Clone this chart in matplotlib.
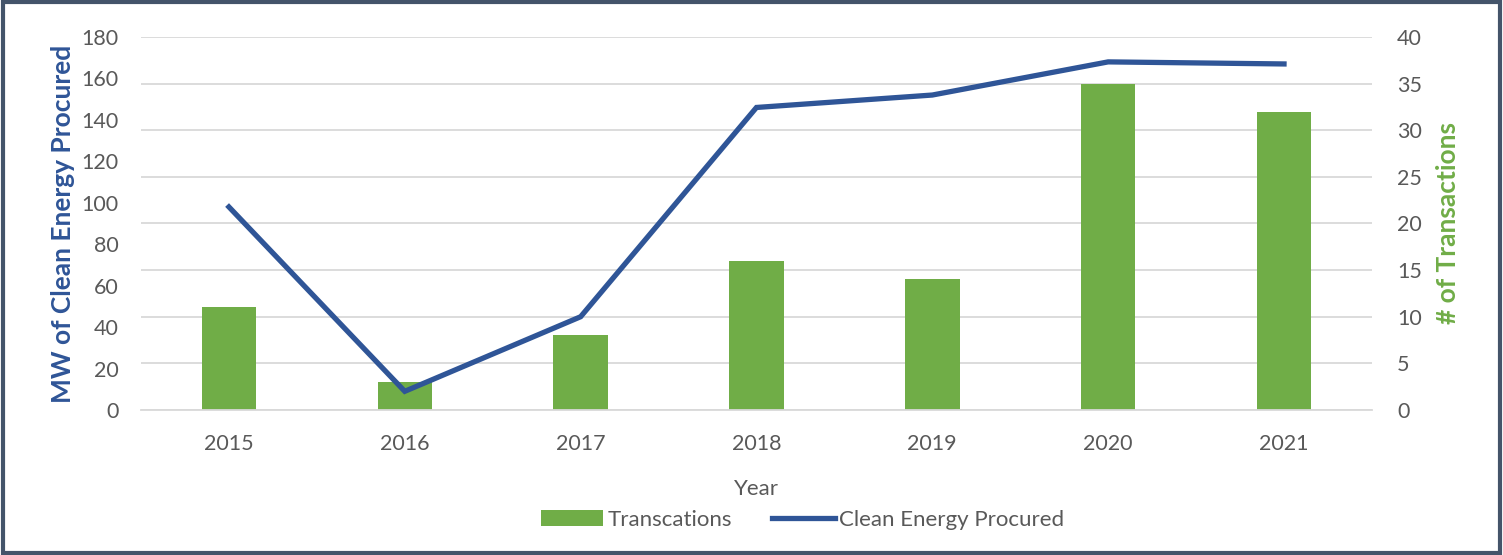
import matplotlib
matplotlib.use("Agg")
import matplotlib.pyplot as plt
from matplotlib.patches import Rectangle

# chart data
years = ['2015', '2016', '2017', '2018', '2019', '2020', '2021']
transactions = [11, 3, 8, 16, 14, 35, 32]
clean_energy_mw = [98, 9, 45, 146, 152, 168, 167]

plt.rcParams['font.family'] = ['Lato', 'DejaVu Sans']

green = '#70AD47'
blue = '#2F5597'
grey = '#595959'

fig = plt.figure(figsize=(15.03, 5.55), dpi=100)
ax = fig.add_axes([0.0938, 0.2613, 0.8190, 0.6720])
ax2 = ax.twinx()

x = list(range(len(years)))

# bars on the right axis, line on the left axis (line drawn on top)
ax.set_zorder(ax2.get_zorder() + 1)
ax.patch.set_visible(False)

bars = ax2.bar(x, transactions, width=0.31, color=green, label='Transcations', zorder=2)
line, = ax.plot(x, clean_energy_mw, color=blue, linewidth=3.8, label='Clean Energy Procured',
                solid_joinstyle='miter', zorder=3)

ax.set_xlim(-0.5, len(years) - 0.5)
ax.set_ylim(0, 180)
ax.set_yticks(range(0, 181, 20))
ax2.set_ylim(0, 40)
ax2.set_yticks(range(0, 41, 5))

ax2.grid(axis='y', color='#D9D9D9', linewidth=1.3, zorder=0)
ax2.set_axisbelow(True)

for a in (ax, ax2):
    for s in a.spines.values():
        s.set_visible(False)
    a.tick_params(length=0, labelsize=15.5, colors=grey)

ax.spines['bottom'].set_visible(True)
ax.spines['bottom'].set_color('#D9D9D9')
ax.spines['bottom'].set_linewidth(1.3)

ax.set_xticks(x)
ax.set_xticklabels(years)
ax.tick_params(axis='x', pad=17)
ax.tick_params(axis='y', pad=16)
ax2.tick_params(axis='y', pad=18)

ax.set_xlabel('Year', fontsize=16, color=grey, labelpad=18)
ax.set_ylabel('MW of Clean Energy Procured', fontsize=19, fontweight='bold', color=blue, labelpad=5)
ax2.set_ylabel('# of Transactions', fontsize=19, fontweight='bold', color=green, labelpad=10)

leg = fig.legend([bars, line], ['Transcations', 'Clean Energy Procured'],
                 loc='center', bbox_to_anchor=(0.534, 0.063), ncol=2, frameon=False,
                 fontsize=16, handlelength=2.8, columnspacing=1.8, handletextpad=0.2)
for t in leg.get_texts():
    t.set_color(grey)

# outer frame
fig.patches.append(Rectangle((0.002, 0.004), 0.996, 0.992, transform=fig.transFigure,
                             fill=False, edgecolor='#44546A', linewidth=3))

fig.savefig('out.png', dpi=100)
